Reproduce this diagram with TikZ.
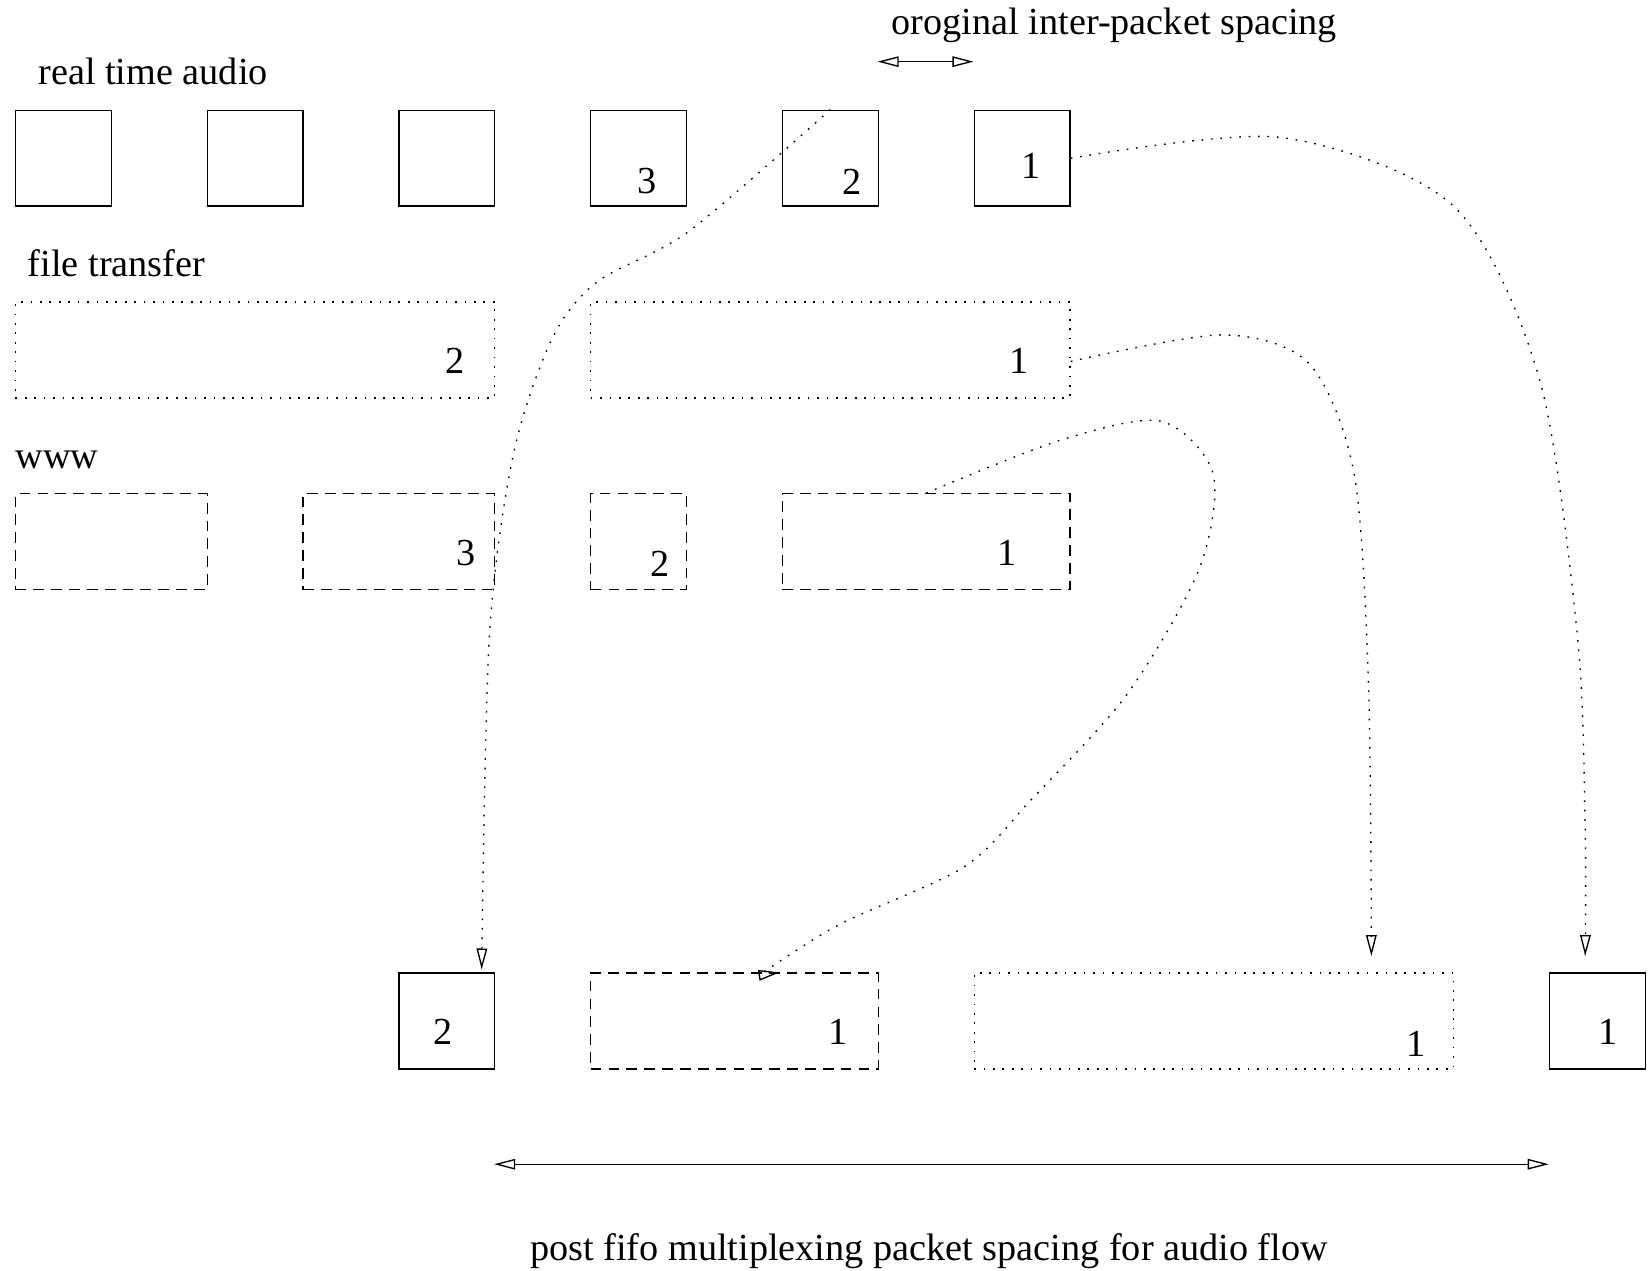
\documentclass[tikz,border=0pt]{standalone}
\usepackage{fontspec}
\setmainfont{Liberation Serif}
\usetikzlibrary{arrows.meta}

\begin{document}
\begin{tikzpicture}[x=1cm,y=1cm,
		font=\fontsize{11.35}{13.6}\selectfont,
		pkt/.style={draw, anchor=north west, inner sep=0pt, minimum height=1cm},
		audio/.style={pkt, minimum width=1cm},
		ftp/.style={pkt, dash pattern=on 0.5pt off 2.3pt},
		web/.style={pkt, dash pattern=on 3.2pt off 2.1pt},
		num/.style={inner sep=0pt},
		lab/.style={anchor=base west, inner sep=0pt},
		flow/.style={dash pattern=on 0.5pt off 2.3pt, -{Triangle[open,length=2.2mm,width=1.1mm]}},
		gapline/.style={{Triangle[open,length=2.2mm,width=1.1mm]}-{Triangle[open,length=2.2mm,width=1.1mm]}}]
		\useasboundingbox (-0.154,-12.11) rectangle (17.077,1.143);
		
		% Labels
		\node[lab] (labaudio) at (0.24,0.26) {real time audio};
		\node[lab] (labspace) at (9.14,0.78) {oroginal inter-packet spacing};
		\node[lab] (labfile) at (0.13,-1.74) {file transfer};
		\node[lab] (labwww) at (0,-3.74) {www};
		\node[lab] (labpost) at (5.37,-12.0) {post fifo multiplexing packet spacing for audio flow};
		
		% real time audio packets
		\node[audio] (a6) at (0,0) {};
		\node[audio] (a5) at (2,0) {};
		\node[audio] (a4) at (4,0) {};
		\node[audio] (a3) at (6,0) {};
		\node[audio] (a2) at (8,0) {};
		\node[audio] (a1) at (10,0) {};
		\node[num] (na3) at (6.59,-0.75) {3};
		\node[num] (na2) at (8.73,-0.75) {2};
		\node[num] (na1) at (10.6,-0.59) {1};
		
		% file transfer packets
		\node[ftp, minimum width=5cm] (f2) at (0,-2) {};
		\node[ftp, minimum width=5cm] (f1) at (6,-2) {};
		\node[num] (nf2) at (4.59,-2.62) {2};
		\node[num] (nf1) at (10.48,-2.62) {1};
		
		% www packets
		\node[web, minimum width=2cm] (w4) at (0,-4) {};
		\node[web, minimum width=2cm] (w3) at (3,-4) {};
		\node[web, minimum width=1cm] (w2) at (6,-4) {};
		\node[web, minimum width=3cm] (w1) at (8,-4) {};
		\node[num] (nw3) at (4.71,-4.62) {3};
		\node[num] (nw2) at (6.73,-4.74) {2};
		\node[num] (nw1) at (10.35,-4.62) {1};
		
		% after the fifo
		\node[audio] (o1) at (4,-9) {};
		\node[web, minimum width=3cm] (o2) at (6,-9) {};
		\node[ftp, minimum width=5cm] (o3) at (10,-9) {};
		\node[audio] (o4) at (16,-9) {};
		\node[num] (no1) at (4.47,-9.62) {2};
		\node[num] (no2) at (8.59,-9.62) {1};
		\node[num] (no3) at (14.62,-9.75) {1};
		\node[num] (no4) at (16.62,-9.62) {1};
		
		% arrow ends
		\coordinate (tA) at (4.87,-8.97);
		\coordinate (tB) at (16.38,-8.83);
		\coordinate (tC) at (14.15,-8.83);
		\coordinate (tD) at (7.76,-9.03);
		\coordinate (tD2) at ([shift={(8:0.22)}]tD);
		\coordinate (sp1) at (9,0.5);
		\coordinate (sp2) at (10,0.5);
		\coordinate (gp1) at (5,-11);
		\coordinate (gp2) at (16,-11);
		
		% Spacings
		\draw[gapline] (sp1) -- (sp2);
		\draw[gapline] (gp1) -- (gp2);
		
		% Packets moved by the fifo
		\draw[flow] plot[smooth] coordinates {(a2.north) (7.03,-1.27) (6.07,-1.8) (5.6,-2.4) (5.2,-3.6) (4.95,-5.5) (tA)};
		\draw[flow] plot[smooth] coordinates {(a1.east) (13.2,-0.29) (15.0,-1.0) (15.9,-2.8) (16.3,-5.5) (16.38,-7.5) (tB)};
		\draw[flow] plot[smooth] coordinates {([yshift=-0.12cm]f1.east) (12.59,-2.35) (13.5,-2.65) (13.97,-3.8) (14.12,-6) (tC)};
		\draw[dash pattern=on 0.5pt off 2.3pt] plot[smooth] coordinates {(w1.north) (10.9,-3.45) (11.95,-3.25) (12.5,-3.8) (12.35,-4.8) (11.6,-6.1) (10.6,-7.2) (9.9,-7.9) (8.6,-8.5) (tD)};
		\draw[flow] (tD) -- (tD2); % head turned back as in the original
		
	\end{tikzpicture}
\end{document}
